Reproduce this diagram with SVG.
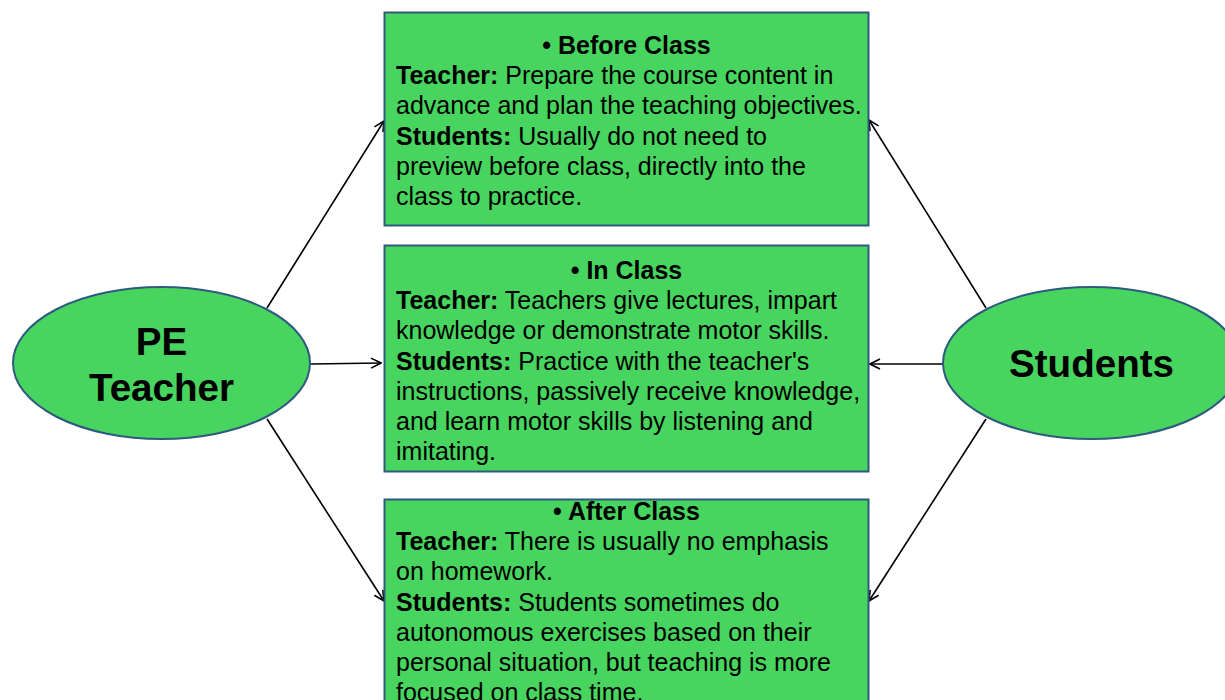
<svg xmlns="http://www.w3.org/2000/svg" width="1225" height="700" viewBox="0 0 1225 700">
<defs>
<style>
.node{fill:#47D55F;stroke:#2E5A7E;stroke-width:2}
.t{font-family:"Liberation Sans",Arial,sans-serif;font-size:25px;fill:#000}
.b{font-weight:bold}
.big{font-family:"Liberation Sans",Arial,sans-serif;font-weight:bold;fill:#000;text-anchor:middle;font-size:38.6px}
.c{stroke:#000;stroke-width:1.6;fill:none;marker-end:url(#arr)}
</style>
<marker id="arr" viewBox="0 0 12 12" refX="11" refY="6" markerWidth="12" markerHeight="12" markerUnits="userSpaceOnUse" orient="auto">
<path d="M1,1 L11,6 L1,11" fill="none" stroke="#000" stroke-width="1.6"/>
</marker>
</defs>
<rect width="1225" height="700" fill="#fff"/>
<g id="connectors">
<line class="c" x1="267" y1="308" x2="384" y2="121"/>
<line class="c" x1="311" y1="364" x2="381" y2="363"/>
<line class="c" x1="267" y1="419" x2="384" y2="601"/>
<line class="c" x1="986" y1="308" x2="869" y2="120"/>
<line class="c" x1="943" y1="364" x2="870" y2="364"/>
<line class="c" x1="986" y1="419" x2="869" y2="601"/>
</g>
<g id="pe-teacher">
<ellipse class="node" cx="161.5" cy="363" rx="148.5" ry="76"/>
<text class="big" x="161.5" y="355">PE</text>
<text class="big" x="161.5" y="401">Teacher</text>
</g>
<g id="students">
<ellipse class="node" cx="1091.5" cy="363" rx="148.5" ry="76"/>
<text class="big" x="1091.5" y="377">Students</text>
</g>
<g id="before-class">
<rect class="node" x="384.5" y="12.5" width="484" height="213"/>
<text class="t b" x="626.5" y="54" text-anchor="middle">• Before Class</text>
<text class="t" x="396" y="84.2"><tspan class="b">Teacher:</tspan> Prepare the course content in</text>
<text class="t" x="396" y="114.4">advance and plan the teaching objectives.</text>
<text class="t" x="396" y="144.6"><tspan class="b">Students:</tspan> Usually do not need to</text>
<text class="t" x="396" y="174.8">preview before class, directly into the</text>
<text class="t" x="396" y="205">class to practice.</text>
</g>
<g id="in-class">
<rect class="node" x="384.5" y="245.5" width="484" height="226"/>
<text class="t b" x="626.5" y="279" text-anchor="middle">• In Class</text>
<text class="t" x="396" y="309.2"><tspan class="b">Teacher:</tspan> Teachers give lectures, impart</text>
<text class="t" x="396" y="339.4">knowledge or demonstrate motor skills.</text>
<text class="t" x="396" y="369.6"><tspan class="b">Students:</tspan> Practice with the teacher's</text>
<text class="t" x="396" y="399.8">instructions, passively receive knowledge,</text>
<text class="t" x="396" y="430">and learn motor skills by listening and</text>
<text class="t" x="396" y="460.2">imitating.</text>
</g>
<g id="after-class">
<rect class="node" x="384.5" y="499.5" width="484" height="220"/>
<text class="t b" x="626.5" y="520" text-anchor="middle">• After Class</text>
<text class="t" x="396" y="550.2"><tspan class="b">Teacher:</tspan> There is usually no emphasis</text>
<text class="t" x="396" y="580.4">on homework.</text>
<text class="t" x="396" y="610.6"><tspan class="b">Students:</tspan> Students sometimes do</text>
<text class="t" x="396" y="640.8">autonomous exercises based on their</text>
<text class="t" x="396" y="671">personal situation, but teaching is more</text>
<text class="t" x="396" y="701.2">focused on class time.</text>
</g>
</svg>
